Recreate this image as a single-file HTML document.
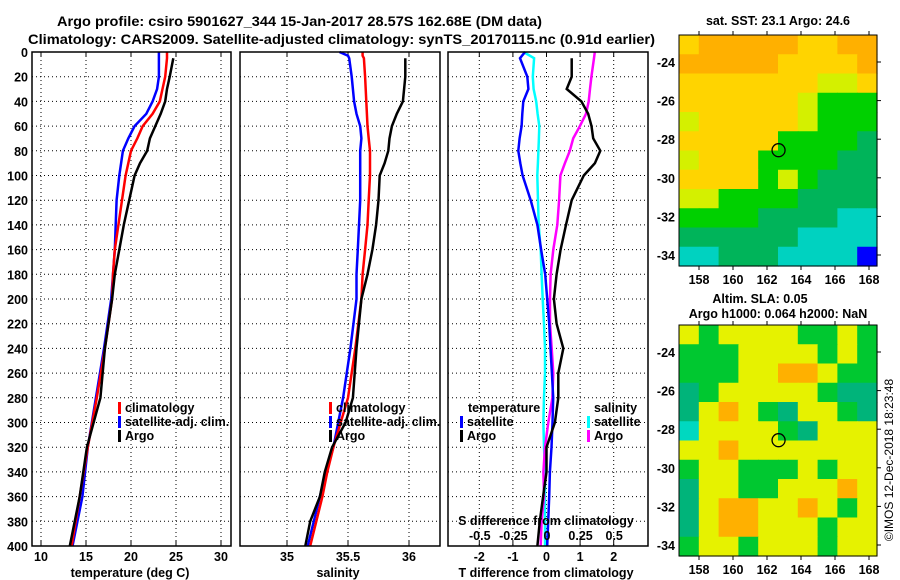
<!DOCTYPE html>
<html><head><meta charset="utf-8">
<style>
html,body{margin:0;padding:0;background:#fff;}
svg{display:block;font-family:"Liberation Sans",sans-serif;font-weight:bold;}
text{font-size:12.5px;fill:#000;}
</style></head>
<body>
<svg id="c" width="900" height="580" viewBox="0 0 900 580" xmlns="http://www.w3.org/2000/svg">
<text x="57" y="26" textLength="485" lengthAdjust="spacingAndGlyphs" style="font-size:14px">Argo profile: csiro 5901627_344 15-Jan-2017 28.57S 162.68E (DM data)</text>
<text x="28" y="44" textLength="627" lengthAdjust="spacingAndGlyphs" style="font-size:14px">Climatology: CARS2009. Satellite-adjusted climatology: synTS_20170115.nc (0.91d earlier)</text>
<text x="778" y="25" text-anchor="middle">sat. SST: 23.1 Argo: 24.6</text>
<text x="760" y="303" text-anchor="middle">Altim. SLA: 0.05</text>
<text x="778" y="318" text-anchor="middle">Argo h1000: 0.064 h2000: NaN</text>
<text transform="translate(893,460) rotate(-90)" text-anchor="middle" style="font-weight:normal;font-size:12px">©IMOS 12-Dec-2018 18:23:48</text>
<g id="plots"></g>
</svg>
<script>
// ---- data ----
const tDepth = [0,5,20,30,40,50,60,70,80,90,100,120,140,160,180,200,240,280,320,360,400];
const tempArgo = [null,24.7,24.3,24.0,23.8,23.3,22.7,22.1,21.8,21.0,20.4,19.8,19.2,18.7,18.2,17.9,17.1,16.6,15.1,14.3,13.2];
const tempClim = [24.0,24.0,23.8,23.5,23.2,22.4,21.3,20.7,20.0,19.7,19.4,19.0,18.6,18.2,18.0,17.9,17.1,16.2,15.2,14.3,13.4];
const tempSat  = [23.1,23.1,23.1,22.9,22.4,21.7,20.4,19.7,19.1,18.9,18.7,18.4,18.3,18.2,18.0,17.8,17.0,16.1,15.2,14.6,13.5];
const sDepth = [0,3,5,20,40,50,60,70,80,90,100,120,140,160,180,200,240,280,300,320,340,360,380,400];
const salArgo = [null,null,35.97,35.97,35.95,35.90,35.86,35.84,35.83,35.80,35.76,35.75,35.73,35.70,35.66,35.61,35.57,35.54,35.48,35.37,35.31,35.27,35.19,35.15];
const salClim = [35.62,35.62,35.63,35.64,35.65,35.655,35.66,35.67,35.68,35.68,35.68,35.67,35.66,35.64,35.62,35.61,35.56,35.50,35.44,35.38,35.33,35.29,35.24,35.19];
const salSat  = [35.43,35.50,35.51,35.53,35.55,35.57,35.60,35.61,35.60,35.60,35.60,35.60,35.59,35.58,35.57,35.57,35.52,35.46,35.42,35.38,35.32,35.27,35.22,35.17];
const dDepth = [0,5,20,30,40,50,60,70,80,90,100,120,140,160,180,200,220,240,260,280,300,320,340,360,380,400];
const dTArgo = [null,0.75,0.75,0.6,1.04,1.24,1.34,1.39,1.6,1.44,1.11,0.75,0.58,0.42,0.3,0.22,0.3,0.5,0.35,0.35,0.25,0.0,0.0,-0.1,-0.2,-0.27];
const dTSat  = [-0.64,-0.79,-0.57,-0.54,-0.69,-0.72,-0.74,-0.8,-0.84,-0.78,-0.71,-0.47,-0.27,-0.16,-0.04,0.02,0.08,0.12,0.16,0.2,0.18,0.15,0.1,0.08,0.05,0.02];
const dSSat  = [-0.175,-0.096,-0.106,-0.1,-0.08,-0.07,-0.057,-0.06,-0.064,-0.068,-0.072,-0.067,-0.062,-0.047,-0.04,-0.032,-0.022,-0.015,-0.015,-0.022,-0.027,-0.022,-0.015,-0.015,-0.015,-0.015];
const dSArgo = [0.356,0.35,0.33,0.32,0.31,0.29,0.245,0.195,0.17,0.133,0.10,0.09,0.077,0.047,0.027,0.022,0.022,0.035,0.047,0.04,0.01,-0.015,-0.027,-0.022,-0.04,-0.047];
const depthTicks = [0,20,40,60,80,100,120,140,160,180,200,220,240,260,280,300,320,340,360,380,400];
const tempTicks = [10,15,20,25,30];
const salTicks = [35,35.5,36];
const salTickLabels = ["35","35.5","36"];
const dTTicks = [-2,-1,0,1,2];
const dSTicks = [-0.5,-0.25,0,0.25,0.5];
const dSTickLabels = ["-0.5","-0.25","0","0.25","0.5"];
const sstGrid = ["YOOOOOYYOO","OOOOOYYYYO","YYYYYYYLLY","YYYYYYLGGG","LYYYYYLGGG","YYYYYGGGGD","LYYYGGGGDD","YYYYGLGDDD","LLGGGGDDDD","GGGGDDDDCC","DDDDDDCCCC","CCDDDCCCCB"];
const slaGrid = ["YGYYYYGGYG","GGGYYYYGYG","GGGYYOOYGG","TGYYYYYGTT","TYOYGTYYGT","CYYYYGTYYY","YYOYYYYYYY","GYYGGGYGYY","TYYGGYYYOY","TYOOYYOYGY","TYOOYYYGYY","GYYGYYYGYY"];
const lonTicks = [158,160,162,164,166,168];
const latTicks = [-24,-26,-28,-30,-32,-34];
const argoLon = 162.68, argoLat = -28.57;

const NS="http://www.w3.org/2000/svg";
const root=document.getElementById('plots');
function mk(tag,attrs,parent){const e=document.createElementNS(NS,tag);for(const k in attrs)e.setAttribute(k,attrs[k]);(parent||root).appendChild(e);return e;}
function txt(x,y,s,anchor,parent){const t=mk('text',{x:x,y:y,'text-anchor':anchor||'start'},parent);t.textContent=s;return t;}

const yTop=52,yBot=546;
const yD=d=>yTop+(d/400)*(yBot-yTop);

function panel(name){
  const g=mk('g',{});
  
  
  return g;
}
function grid(g,x0,x1,xs,xf){
  depthTicks.forEach(d=>{const l=mk('line',{x1:x0,x2:x1,y1:yD(d),y2:yD(d),stroke:'#000','stroke-width':1,'stroke-dasharray':'1,3'},g);
    });
  xs.forEach(v=>{const l=mk('line',{x1:xf(v),x2:xf(v),y1:yTop,y2:yBot,stroke:'#000','stroke-width':1,'stroke-dasharray':'1,3'},g);
    
    mk('line',{x1:xf(v),x2:xf(v),y1:yBot,y2:yBot-5,stroke:'#000'},g);mk('line',{x1:xf(v),x2:xf(v),y1:yTop,y2:yTop+5,stroke:'#000'},g);});
}
function frame(g,x0,x1){const r=mk('rect',{x:x0,y:yTop,width:x1-x0,height:yBot-yTop,fill:'none',stroke:'#000','stroke-width':1.5},g);
  }
function series(g,ds,vs,xf,color,name){
  let p='';ds.forEach((d,i)=>{if(vs[i]===null)return;p+=(p?'L':'M')+xf(vs[i]).toFixed(1)+','+yD(d).toFixed(1);});
  const e=mk('path',{d:p,fill:'none',stroke:color,'stroke-width':2.5,'stroke-linejoin':'miter'},g);
  
  
}
function legendItem(g,x,y,color,label,name){
  const r=mk('rect',{x:x,y:y-10,width:3,height:12,fill:color},g);
  
  const t=txt(x+7,y,label,'start',g);
  
}

depthTicks.forEach(d=>{const t=txt(28,yD(d)+5,String(d),'end');
  });

// Panel 1: temperature
const xT=v=>32+(v-9)*9.0;
let g1=panel('temperature-panel');
grid(g1,32,231,tempTicks,xT);
series(g1,tDepth,tempSat,xT,'#0000ff','temp-satellite-line');
series(g1,tDepth,tempClim,xT,'#ff0000','temp-climatology-line');
series(g1,tDepth,tempArgo,xT,'#000000','temp-argo-line');
frame(g1,32,231);
tempTicks.forEach(v=>{const t=txt(xT(v),561,String(v),'middle',g1);});
{const t=txt(130,577,'temperature (deg C)','middle',g1);}
legendItem(g1,118,412,'#ff0000','climatology','legend-climatology');
legendItem(g1,118,426,'#0000ff','satellite-adj. clim.','legend-satellite-adj');
legendItem(g1,118,440,'#000000','Argo','legend-argo');

// Panel 2: salinity
const xS=v=>287+(v-35)*122;
let g2=panel('salinity-panel');
grid(g2,240,440,salTicks,xS);
series(g2,sDepth,salSat,xS,'#0000ff','sal-satellite-line');
series(g2,sDepth,salClim,xS,'#ff0000','sal-climatology-line');
series(g2,sDepth,salArgo,xS,'#000000','sal-argo-line');
frame(g2,240,440);
salTicks.forEach((v,i)=>{const t=txt(xS(v),561,salTickLabels[i],'middle',g2);});
{const t=txt(338,577,'salinity','middle',g2);}
legendItem(g2,329,412,'#ff0000','climatology','legend-climatology-2');
legendItem(g2,329,426,'#0000ff','satellite-adj. clim.','legend-satellite-adj-2');
legendItem(g2,329,440,'#000000','Argo','legend-argo-2');

// Panel 3: differences
const xDT=v=>546.5+v*33.6;
const xDS=v=>547+v*134.4;
let g3=panel('difference-panel');
grid(g3,448,648,dTTicks,xDT);
series(g3,dDepth,dSSat,xDS,'#00ffff','sdiff-satellite-line');
series(g3,dDepth,dSArgo,xDS,'#ff00ff','sdiff-argo-line');
series(g3,dDepth,dTSat,xDT,'#0000ff','tdiff-satellite-line');
series(g3,dDepth,dTArgo,xDT,'#000000','tdiff-argo-line');
frame(g3,448,648);
dTTicks.forEach(v=>{const t=txt(xDT(v),561,String(v),'middle',g3);});
dSTicks.forEach((v,i)=>{const t=txt(xDS(v),540,dSTickLabels[i],'middle',g3);});
{const t=txt(546,525,'S difference from climatology','middle',g3);}
{const t=txt(546,577,'T difference from climatology','middle',g3);}
{const t=txt(468,412,'temperature','start',g3);}
{const t=txt(594,412,'salinity','start',g3);}
legendItem(g3,460,426,'#0000ff','satellite','legend-t-satellite');
legendItem(g3,460,440,'#000000','Argo','legend-t-argo');
legendItem(g3,587,426,'#00ffff','satellite','legend-s-satellite');
legendItem(g3,587,440,'#ff00ff','Argo','legend-s-argo');

// Maps
const colors={O:'#ffb000',Y:'#ffd400',L:'#d4f000',G:'#00d000',D:'#00b45a',C:'#00d2c0',B:'#0000ff',T:'#00b080'};
const slaColors={O:'#ffb000',Y:'#e6f200',G:'#00c830',T:'#00b47a',C:'#00d8c0'};
const mx0=679,mx1=877;
const xLon=v=>699+(v-158)*17;
function map(y0,y1,gridRows,cmap,name){
  const g=mk('g',{});
  
  
  const rows=gridRows.length,cols=gridRows[0].length;
  const cw=(mx1-mx0)/cols,ch=(y1-y0)/rows;
  gridRows.forEach((row,r)=>{for(let c=0;c<cols;c++){
    mk('rect',{x:(mx0+c*cw).toFixed(2),y:(y0+r*ch).toFixed(2),width:(cw+0.6).toFixed(2),height:(ch+0.6).toFixed(2),fill:cmap[row[c]]},g);}});
  const yLat=v=>y0+27+(-24-v)*19.3;
  mk('rect',{x:mx0,y:y0,width:mx1-mx0,height:y1-y0,fill:'none',stroke:'#000','stroke-width':1},g);
  lonTicks.forEach(v=>{mk('line',{x1:xLon(v),x2:xLon(v),y1:y1,y2:y1+4,stroke:'#000'},g);mk('line',{x1:xLon(v),x2:xLon(v),y1:y0,y2:y0-4,stroke:'#000'},g);
    const t=txt(xLon(v),y1+18,String(v),'middle',g);});
  latTicks.forEach(v=>{mk('line',{x1:mx1,x2:mx1+4,y1:yLat(v),y2:yLat(v),stroke:'#000'},g);
    const t=txt(mx0-4,yLat(v)+5,String(v),'end',g);});
  const c=mk('circle',{cx:xLon(argoLon),cy:yLat(argoLat),r:6.5,fill:'none',stroke:'#000','stroke-width':1.3},g);
  
}
map(35,266,sstGrid,colors,'sst-map');
map(325,556,slaGrid,slaColors,'sla-map');
</script>
</body></html>
